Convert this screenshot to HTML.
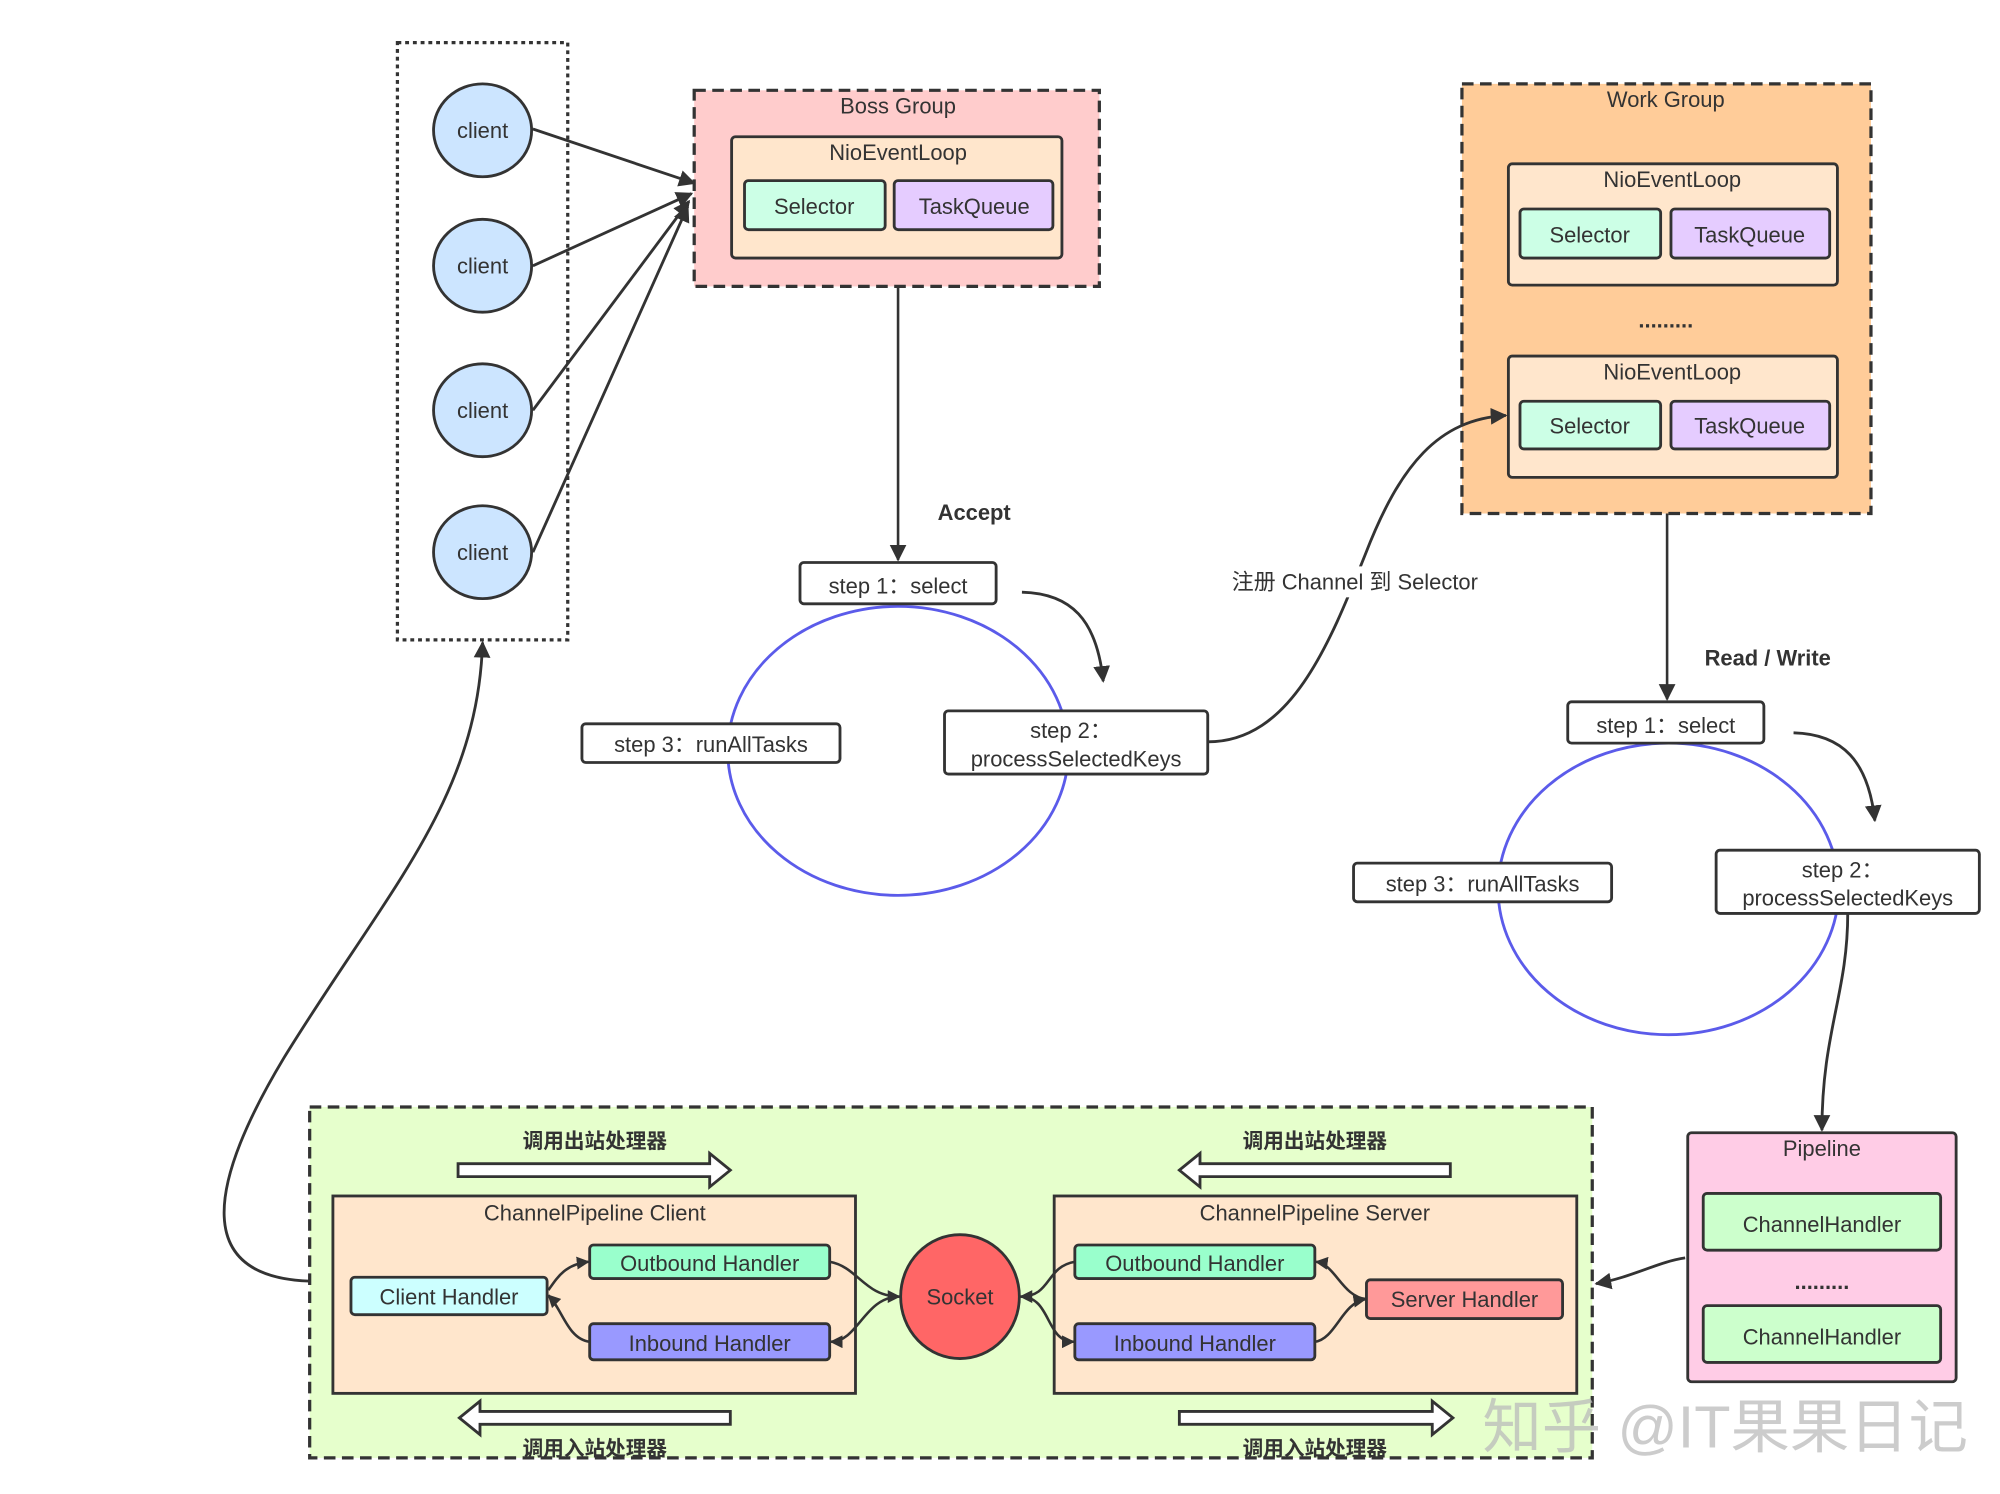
<!DOCTYPE html>
<html><head><meta charset="utf-8"><style>
html,body{margin:0;padding:0;background:#fff;}
svg{display:block;}
text{font-family:"Liberation Sans","Noto Sans CJK SC",sans-serif;fill:#333;}
</style></head><body>
<svg width="2000" height="1494" viewBox="0 0 1550 1158" preserveAspectRatio="none" xmlns="http://www.w3.org/2000/svg">
<defs>
<marker id="a" viewBox="0 0 10 10" refX="9" refY="5" markerWidth="10" markerHeight="10" orient="auto" markerUnits="userSpaceOnUse">
<path d="M0,0 L10,5 L0,10 z" fill="#333"/></marker>
<marker id="b" viewBox="0 0 10 10" refX="9" refY="5" markerWidth="13" markerHeight="13" orient="auto" markerUnits="userSpaceOnUse">
<path d="M0,0 L10,5 L0,10 z" fill="#333"/></marker>
</defs>
<rect width="1550" height="1158" fill="#fff"/>

<!-- client box -->
<rect x="308" y="33" width="132" height="463" fill="none" stroke="#333" stroke-width="2.5" stroke-dasharray="3,3"/>
<g stroke="#333" stroke-width="2.2" fill="#cce5ff">
<ellipse cx="374" cy="101" rx="38" ry="36"/><ellipse cx="374" cy="206" rx="38" ry="36"/>
<ellipse cx="374" cy="318" rx="38" ry="36"/><ellipse cx="374" cy="428" rx="38" ry="36"/>
</g>
<g font-size="17" text-anchor="middle"><text x="374" y="107">client</text><text x="374" y="212">client</text><text x="374" y="324">client</text><text x="374" y="434">client</text></g>
<g stroke="#333" stroke-width="2.2" fill="none" marker-end="url(#b)">
<path d="M413,100 L538,142"/><path d="M413,206 L536,150"/><path d="M413,318 L534,156"/><path d="M413,428 L533,160"/>
</g>

<!-- Boss group -->
<rect x="538" y="70" width="314" height="152" fill="#ffcccc" stroke="#333" stroke-width="2.5" stroke-dasharray="9,5"/>
<text x="696" y="88" font-size="17" text-anchor="middle">Boss Group</text>
<rect x="567" y="106" width="256" height="94" rx="3" fill="#ffe6cc" stroke="#333" stroke-width="2.2"/>
<text x="696" y="124" font-size="17" text-anchor="middle">NioEventLoop</text>
<rect x="577" y="140" width="109" height="38" rx="3" fill="#ccffe6" stroke="#333" stroke-width="2.2"/>
<rect x="693" y="140" width="123" height="38" rx="3" fill="#e5ccff" stroke="#333" stroke-width="2.2"/>
<text x="631" y="166" font-size="17" text-anchor="middle">Selector</text>
<text x="755" y="166" font-size="17" text-anchor="middle">TaskQueue</text>

<path d="M696,222 L696,434" stroke="#333" stroke-width="2" fill="none" marker-end="url(#b)"/>
<text x="755" y="403" font-size="17" font-weight="bold" text-anchor="middle">Accept</text>

<ellipse cx="696" cy="582" rx="132" ry="112" fill="none" stroke="#5b5bea" stroke-width="2.2"/>
<g stroke="#333" stroke-width="2.2" fill="#fff">
<rect x="620" y="436" width="152" height="32" rx="3"/>
<rect x="451" y="561" width="200" height="30" rx="3"/>
<rect x="732" y="551" width="204" height="49" rx="3"/>
</g>
<g font-size="17" text-anchor="middle">
<text x="696" y="460">step 1：select</text>
<text x="551" y="583">step 3：runAllTasks</text>
<text x="830" y="572">step 2：</text>
<text x="834" y="594">processSelectedKeys</text>
</g>
<path d="M792,459 C830,460 850,480 855,528" stroke="#333" stroke-width="2.2" fill="none" marker-end="url(#b)"/>

<!-- Work group -->
<rect x="1133" y="65" width="317" height="333" fill="#ffcc99" stroke="#333" stroke-width="2.5" stroke-dasharray="9,5"/>
<text x="1291" y="83" font-size="17" text-anchor="middle">Work Group</text>
<g stroke="#333" stroke-width="2.2">
<rect x="1169" y="127" width="255" height="94" rx="3" fill="#ffe6cc"/>
<rect x="1178" y="162" width="109" height="38" rx="3" fill="#ccffe6"/>
<rect x="1295" y="162" width="123" height="38" rx="3" fill="#e5ccff"/>
<rect x="1169" y="276" width="255" height="94" rx="3" fill="#ffe6cc"/>
<rect x="1178" y="311" width="109" height="37" rx="3" fill="#ccffe6"/>
<rect x="1295" y="311" width="123" height="37" rx="3" fill="#e5ccff"/>
</g>
<g font-size="17" text-anchor="middle">
<text x="1296" y="145">NioEventLoop</text>
<text x="1232" y="188">Selector</text><text x="1356" y="188">TaskQueue</text>
<text x="1291" y="254" font-weight="bold">.........</text>
<text x="1296" y="294">NioEventLoop</text>
<text x="1232" y="336">Selector</text><text x="1356" y="336">TaskQueue</text>
</g>

<!-- register curve -->
<path d="M936,575 C1000,575 1030,500 1058,430 C1085,360 1115,325 1167,322" stroke="#333" stroke-width="2.2" fill="none" marker-end="url(#b)"/>
<rect x="945" y="439" width="210" height="24" fill="#fff"/>
<text x="1050" y="457" font-size="17" text-anchor="middle">注册 Channel 到 Selector</text>

<path d="M1292,398 L1292,542" stroke="#333" stroke-width="2" fill="none" marker-end="url(#b)"/>
<text x="1370" y="516" font-size="17" font-weight="bold" text-anchor="middle">Read / Write</text>

<ellipse cx="1293" cy="689" rx="132" ry="113" fill="none" stroke="#5b5bea" stroke-width="2.2"/>
<g stroke="#333" stroke-width="2.2" fill="#fff">
<rect x="1215" y="544" width="152" height="32" rx="3"/>
<rect x="1049" y="669" width="200" height="30" rx="3"/>
<rect x="1330" y="659" width="204" height="49" rx="3"/>
</g>
<g font-size="17" text-anchor="middle">
<text x="1291" y="568">step 1：select</text>
<text x="1149" y="691">step 3：runAllTasks</text>
<text x="1428" y="680">step 2：</text>
<text x="1432" y="702">processSelectedKeys</text>
</g>
<path d="M1390,568 C1428,569 1448,590 1453,636" stroke="#333" stroke-width="2.2" fill="none" marker-end="url(#b)"/>
<path d="M1432,708 C1432,770 1412,800 1412,876" stroke="#333" stroke-width="2.2" fill="none" marker-end="url(#b)"/>

<!-- Pipeline -->
<rect x="1308" y="878" width="208" height="193" rx="3" fill="#ffcce6" stroke="#333" stroke-width="2.2"/>
<text x="1412" y="896" font-size="17" text-anchor="middle">Pipeline</text>
<rect x="1320" y="925" width="184" height="44" rx="3" fill="#ccffcc" stroke="#333" stroke-width="2.2"/>
<rect x="1320" y="1012" width="184" height="44" rx="3" fill="#ccffcc" stroke="#333" stroke-width="2.2"/>
<text x="1412" y="955" font-size="17" text-anchor="middle">ChannelHandler</text>
<text x="1412" y="999" font-size="17" font-weight="bold" text-anchor="middle">.........</text>
<text x="1412" y="1042" font-size="17" text-anchor="middle">ChannelHandler</text>
<path d="M1306,975 C1285,978 1265,990 1237,995" stroke="#333" stroke-width="2.2" fill="none" marker-end="url(#b)"/>

<!-- green region -->
<rect x="240" y="858" width="994" height="272" fill="#e6ffcc" stroke="#333" stroke-width="2.5" stroke-dasharray="9,5"/>
<g font-size="16" font-weight="bold" text-anchor="middle">
<text x="461" y="890">调用出站处理器</text><text x="1019" y="890">调用出站处理器</text>
<text x="461" y="1128">调用入站处理器</text><text x="1019" y="1128">调用入站处理器</text>
</g>
<g fill="#fff" stroke="#333" stroke-width="2.2">
<path d="M355,902 L550,902 L550,894 L566,907 L550,920 L550,912 L355,912 z"/>
<path d="M1124,902 L930,902 L930,894 L914,907 L930,920 L930,912 L1124,912 z"/>
<path d="M566,1094 L372,1094 L372,1086 L356,1099 L372,1112 L372,1104 L566,1104 z"/>
<path d="M914,1094 L1110,1094 L1110,1086 L1126,1099 L1110,1112 L1110,1104 L914,1104 z"/>
</g>

<g stroke="#333" stroke-width="2.2">
<rect x="258" y="927" width="405" height="153" fill="#ffe6cc"/>
<rect x="817" y="927" width="405" height="153" fill="#ffe6cc"/>
<rect x="272" y="990" width="152" height="29" rx="3" fill="#ccffff"/>
<rect x="457" y="965" width="186" height="26" rx="3" fill="#99ffcc"/>
<rect x="457" y="1026" width="186" height="28" rx="3" fill="#9999ff"/>
<rect x="833" y="965" width="186" height="26" rx="3" fill="#99ffcc"/>
<rect x="833" y="1026" width="186" height="28" rx="3" fill="#9999ff"/>
<rect x="1059" y="992" width="152" height="30" rx="3" fill="#ff9999"/>
<ellipse cx="744" cy="1005" rx="46" ry="48" fill="#ff6666"/>
</g>
<g font-size="17" text-anchor="middle">
<text x="461" y="946">ChannelPipeline  Client</text>
<text x="1019" y="946">ChannelPipeline  Server</text>
<text x="348" y="1011">Client Handler</text>
<text x="550" y="985">Outbound Handler</text>
<text x="550" y="1047">Inbound Handler</text>
<text x="926" y="985">Outbound Handler</text>
<text x="926" y="1047">Inbound Handler</text>
<text x="1135" y="1013">Server Handler</text>
<text x="744" y="1011">Socket</text>
</g>
<g stroke="#333" stroke-width="2" fill="none" marker-end="url(#a)">
<path d="M425,1000 C432,990 438,980 456,978"/>
<path d="M457,1040 C440,1038 436,1015 425,1004"/>
<path d="M643,978 C665,982 670,1005 697,1005"/>
<path d="M697,1005 C670,1005 665,1040 644,1040"/>
<path d="M833,978 C810,982 815,1005 791,1005"/>
<path d="M791,1005 C815,1005 810,1040 832,1040"/>
<path d="M1059,1007 C1040,1005 1035,980 1020,978"/>
<path d="M1019,1040 C1035,1038 1040,1010 1058,1007"/>
</g>

<!-- back curve -->
<path d="M240,993 C150,990 160,920 220,820 C300,690 370,620 374,498" stroke="#333" stroke-width="2.2" fill="none" marker-end="url(#b)"/>

<text x="1337" y="1122" font-size="46" text-anchor="middle" style="fill:#bbb;opacity:0.75">知乎 @IT果果日记</text>
</svg>
</body></html>
